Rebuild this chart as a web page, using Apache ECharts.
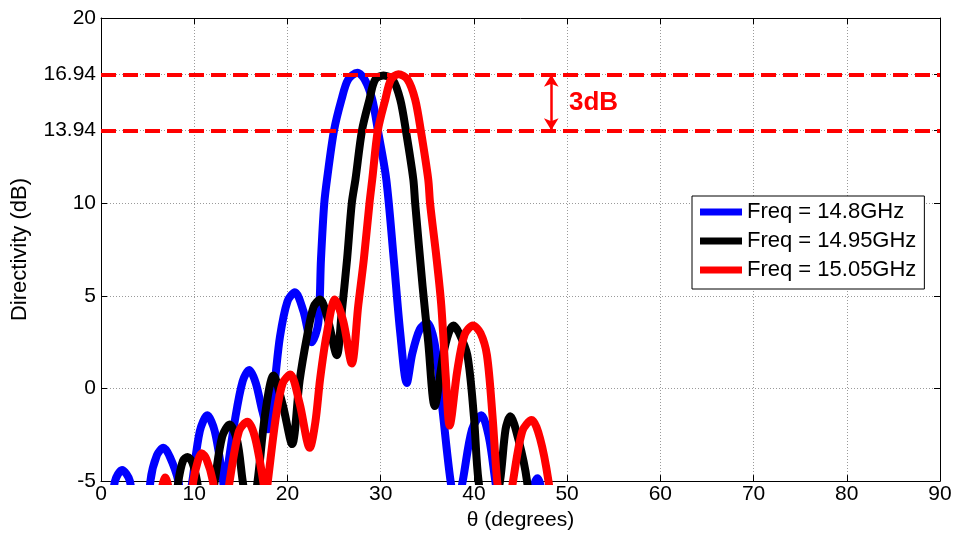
<!DOCTYPE html>
<html>
<head>
<meta charset="utf-8">
<script src="https://cdn.jsdelivr.net/npm/echarts@6/dist/echarts.min.js"></script>
<style>
html,body{margin:0;padding:0;background:#fff;}
#chart{width:955px;height:536px;}
</style>
</head>
<body>
<div id="chart"></div>
<script>
// ---- data ----
const seriesNames = ['Freq = 14.8GHz', 'Freq = 14.95GHz', 'Freq = 15.05GHz'];

const thetaBlue = [0, 1.0, 1.5, 2.25, 3.1, 3.8, 4.6, 5.3, 6.0, 6.7, 7.4, 8.3, 9.0, 9.8, 10.6, 11.4, 12.2, 13.1, 13.25, 13.4, 14.4, 15.2, 15.9, 16.6, 17.3, 17.9, 18.6, 19.2, 20.0, 20.8, 21.7, 22.6, 23.3, 23.6, 23.95, 24.3, 25.0, 25.8, 26.5, 27.5, 28.3, 29.1, 29.7, 30.6, 31.4, 32.1, 32.8, 33.4, 34.2, 35.0, 35.8, 36.6, 37.5, 38.15, 38.8, 39.8, 40.8, 41.6, 42.3, 43.5, 45.5, 46.8, 47.8, 49.0];
const dirBlue   = [-9, -7, -5, -4.4, -5, -8, -10, -5, -3.6, -3.2, -3.7, -5, -7.5, -5, -2.3, -1.45, -2.3, -5, -5.8, -5, -1.6, 0.4, 1.0, 0.3, -1.2, -2.2, 0.2, 2.8, 4.7, 5.2, 4.2, 2.5, 3.5, 7.0, 10.0, 11.5, 13.94, 15.6, 16.67, 17.05, 16.67, 15.6, 13.94, 11.3, 7.0, 3.0, 0.3, 1.9, 3.2, 3.55, 2.4, -1.0, -5, -6.5, -5, -2.2, -1.45, -2.6, -5, -9, -7, -4.85, -7, -11];

const thetaBlack = [5.0, 7.5, 8.3, 8.8, 9.3, 9.8, 10.3, 11.2, 12.2, 13.0, 13.8, 14.6, 15.2, 16.0, 16.8, 17.6, 18.5, 19.5, 20.5, 21.3, 22.1, 22.8, 23.5, 24.3, 25.3, 25.8, 26.4, 26.9, 27.3, 28.0, 28.8, 29.4, 30.3, 31.3, 32.1, 32.7, 33.5, 33.7, 34.5, 35.1, 35.8, 36.7, 37.3, 37.8, 38.4, 39.3, 40.0, 40.5, 41.6, 42.8, 43.4, 43.9, 44.8, 45.7, 46.5];
const dirBlack   = [-10, -8, -5, -3.9, -3.7, -4.0, -5, -8, -5, -2.6, -1.95, -2.8, -5, -7.5, -5, -1.4, 0.7, -0.9, -3.0, 0.4, 2.8, 4.4, 4.8, 3.8, 1.8, 4.0, 7.0, 10.0, 11.3, 13.94, 15.6, 16.67, 16.9, 16.67, 15.6, 13.94, 11.3, 10.0, 5.5, 2.5, -0.95, 1.8, 3.0, 3.4, 3.0, 1.8, -1.5, -5, -8, -5, -2.2, -1.5, -2.8, -5, -9];

const thetaRed = [5.5, 6.3, 6.9, 7.5, 8.8, 9.9, 10.4, 10.8, 11.3, 12.0, 12.9, 13.8, 14.8, 15.7, 16.5, 17.4, 17.65, 17.9, 18.8, 19.5, 20.3, 21.3, 22.4, 23.0, 23.5, 24.2, 25.1, 26.0, 26.9, 27.6, 28.2, 28.8, 29.1, 29.7, 30.5, 31.1, 31.9, 32.9, 33.7, 34.3, 35.1, 35.3, 36.0, 36.5, 37.0, 37.4, 38.2, 39.0, 39.9, 40.7, 41.4, 42.0, 42.5, 43.3, 44.2, 45.2, 46.2, 47.1, 48.0, 49.0];
const dirRed   = [-9, -6, -4.8, -6, -9, -5, -3.9, -3.5, -3.8, -5, -8, -5, -2.3, -1.8, -2.6, -5, -6, -5, -1.4, 0.3, 0.75, -0.8, -3.2, -1.8, 0.5, 2.9, 4.8, 3.6, 1.35, 4.5, 7.0, 10.0, 11.3, 13.94, 15.6, 16.67, 16.97, 16.67, 15.6, 13.94, 11.3, 10.0, 7.0, 4.5, 0.5, -2.0, 0.9, 2.9, 3.4, 3.0, 1.8, -1.5, -5, -8, -5, -2.3, -1.7, -2.7, -5, -9];

const xTicks = [0, 10, 20, 30, 40, 50, 60, 70, 80, 90];
const yTicks = [-5, 0, 5, 10, 13.94, 16.94, 20];
const refLevels = [16.94, 13.94];
const arrowTheta = 48.3;
const annotText = '3dB';

// ---- chart ----
const pairs = (xs, ys) => xs.map((x, i) => [x, ys[i]]);
const FONT = "'Liberation Sans', Arial, sans-serif";
const chart = echarts.init(document.getElementById('chart'), null, {renderer: 'canvas'});

const lineSeries = (name, color, xs, ys, extra) => Object.assign({
  name: name,
  type: 'line',
  data: pairs(xs, ys),
  showSymbol: false,
  symbol: 'none',
  smooth: 0.3,
  clip: true,
  lineStyle: {color: color, width: 8, cap: 'round', join: 'round'},
  itemStyle: {color: color},
  emphasis: {disabled: true}
}, extra || {});

const option = {
  animation: false,
  backgroundColor: '#fff',
  grid: {left: 101, right: 15, top: 18, bottom: 53, containLabel: false},
  legend: {
    orient: 'vertical',
    left: 692, top: 196,
    padding: [5, 8, 8, 8],
    itemGap: 7,
    itemWidth: 42, itemHeight: 7,
    icon: 'rect',
    backgroundColor: '#fff',
    borderColor: '#000', borderWidth: 1,
    textStyle: {fontFamily: FONT, fontSize: 22, color: '#000', lineHeight: 22},
    data: seriesNames
  },
  xAxis: [{
    type: 'value', min: 0, max: 90, interval: 10,
    position: 'bottom',
    name: 'θ (degrees)', nameLocation: 'middle', nameGap: 27,
    nameTextStyle: {fontFamily: FONT, fontSize: 21, color: '#000'},
    axisLine: {show: true, onZero: false, lineStyle: {color: '#000', width: 1}},
    axisTick: {show: true, inside: true, length: 6, lineStyle: {color: '#000'}},
    axisLabel: {fontFamily: FONT, fontSize: 21, color: '#000', margin: 3},
    splitLine: {show: true, lineStyle: {color: '#9a9a9a', type: [1, 2], width: 1}}
  }, {
    type: 'value', min: 0, max: 90, interval: 10,
    position: 'top',
    axisLine: {show: true, onZero: false, lineStyle: {color: '#000', width: 1}},
    axisTick: {show: true, inside: true, length: 6, lineStyle: {color: '#000'}},
    axisLabel: {show: false},
    splitLine: {show: false}
  }],
  yAxis: [{
    type: 'value', min: -5, max: 20,
    position: 'left',
    name: 'Directivity (dB)', nameLocation: 'middle', nameGap: 70,
    nameTextStyle: {fontFamily: FONT, fontSize: 22, color: '#000'},
    axisLine: {show: true, onZero: false, lineStyle: {color: '#000', width: 1}},
    axisTick: {show: true, inside: true, length: 6, customValues: yTicks, lineStyle: {color: '#000'}},
    axisLabel: {fontFamily: FONT, fontSize: 21, color: '#000', margin: 5, customValues: yTicks},
    splitLine: {show: true, lineStyle: {color: '#9a9a9a', type: [1, 2], width: 1}}
  }, {
    type: 'value', min: -5, max: 20,
    position: 'right',
    axisLine: {show: true, onZero: false, lineStyle: {color: '#000', width: 1}},
    axisTick: {show: true, inside: true, length: 6, customValues: yTicks, lineStyle: {color: '#000'}},
    axisLabel: {show: false, customValues: yTicks},
    splitLine: {show: false}
  }],
  series: [
    lineSeries(seriesNames[0], '#0000ff', thetaBlue, dirBlue),
    lineSeries(seriesNames[1], '#000000', thetaBlack, dirBlack),
    lineSeries(seriesNames[2], '#ff0000', thetaRed, dirRed, {
      markLine: {
        silent: true,
        symbol: 'none',
        animation: false,
        label: {show: false},
        emphasis: {disabled: true},
        lineStyle: {color: '#ff0000', width: 4, type: [15, 7]},
        data: refLevels.map(v => ({yAxis: v}))
      }
    }),
    {
      name: 'annot',
      type: 'line',
      data: [],
      markLine: {
        silent: true,
        animation: false,
        symbol: ['arrow', 'arrow'],
        symbolSize: [11, 12],
        label: {show: false},
        emphasis: {disabled: true},
        lineStyle: {color: '#ff0000', width: 2.5, type: 'solid'},
        data: [[{coord: [arrowTheta, refLevels[0]]}, {coord: [arrowTheta, refLevels[1]]}]]
      },
      markPoint: {
        silent: true,
        animation: false,
        symbol: 'circle',
        symbolSize: 0,
        data: [{coord: [50.2, (refLevels[0] + refLevels[1]) / 2]}],
        label: {
          show: true, position: 'right', distance: 0,
          formatter: annotText,
          fontFamily: FONT, fontSize: 26, fontWeight: 'bold', color: '#ff0000'
        }
      }
    }
  ]
};
chart.setOption(option);
</script>
</body>
</html>
